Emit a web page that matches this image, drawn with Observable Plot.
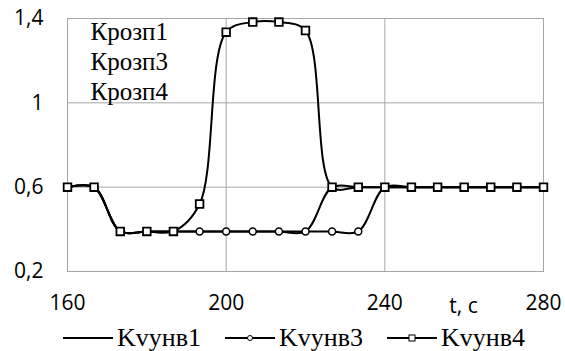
<!DOCTYPE html>
<html>
<head>
<meta charset="utf-8">
<script src="https://cdn.jsdelivr.net/npm/d3@7"></script>
<script src="https://cdn.jsdelivr.net/npm/@observablehq/plot@0.6"></script>
<style>
  html, body { margin: 0; padding: 0; background: #fff; }
  #legend { display: flex; align-items: center; height: 26px; padding-left: 63px;
    font-family: "Liberation Serif", serif; font-size: 26px; color: #000; }
  #legend .item { display: flex; align-items: center; margin-right: 24px; }
  #legend svg { margin-right: 4px; }
</style>
</head>
<body>
<div id="chart"></div>
<div id="legend"></div>
<script>
const t = [160, 166.7, 173.3, 180, 186.7, 193.3, 200, 206.7, 213.3, 220, 226.7, 233.3, 240, 246.7, 253.3, 260, 266.7, 273.3, 280];
const kvunv1 = [0.6, 0.6, 0.39, 0.39, 0.39, 0.39, 0.39, 0.39, 0.39, 0.39, 0.6, 0.6, 0.6, 0.6, 0.6, 0.6, 0.6, 0.6, 0.6];
const kvunv3 = [0.6, 0.6, 0.39, 0.39, 0.39, 0.39, 0.39, 0.39, 0.39, 0.39, 0.39, 0.39, 0.6, 0.6, 0.6, 0.6, 0.6, 0.6, 0.6];
const kvunv4 = [0.6, 0.6, 0.39, 0.39, 0.39, 0.52, 1.335, 1.383, 1.383, 1.343, 0.6, 0.6, 0.6, 0.6, 0.6, 0.6, 0.6, 0.6, 0.6];
const seriesNames = ["Kvунв1", "Kvунв3", "Kvунв4"];
const seriesSymbols = [null, "circle", "square"];
const xTicks = [160, 200, 240, 280];
const yTicks = [0.2, 0.6, 1, 1.4];
const noteLines = ["Крозп1", "Крозп3", "Крозп4"];
const xLabel = "t, c";

const seriesValues = [kvunv1, kvunv3, kvunv4];
const rows = seriesNames.map((name, i) => t.map((x, j) => ({x, y: seriesValues[i][j], name})));

const sans = "'Open Sans', sans-serif";
const serif = "'Liberation Serif', serif";
const grid = "#a6a6a6";
const curve = "catmull-rom";

const plot = Plot.plot({
  width: 565,
  height: 325,
  marginLeft: 67,
  marginRight: 22,
  marginTop: 18,
  marginBottom: 54,
  style: {fontFamily: sans, background: "#fff"},
  x: {domain: [160, 280]},
  y: {domain: [0.2, 1.4]},
  marks: [
    Plot.gridX(xTicks, {stroke: grid, strokeOpacity: 1, strokeWidth: 1}),
    Plot.gridY(yTicks, {stroke: grid, strokeOpacity: 1, strokeWidth: 1}),
    Plot.frame({stroke: grid, strokeWidth: 1}),
    Plot.axisX(xTicks, {tickSize: 0, tickPadding: 24, fontSize: 21, fill: "#000", label: null, fontFamily: sans}),
    Plot.axisY(yTicks, {tickSize: 0, tickPadding: 24, fontSize: 21, fill: "#000", label: null, fontFamily: sans,
      tickFormat: d => String(d).replace(".", ",")}),
    ...rows.map((r, i) => Plot.line(r, {x: "x", y: "y", stroke: "#000", strokeWidth: 2, curve})),
    Plot.dot(rows[1], {x: "x", y: "y", symbol: "circle", r: 3.5, stroke: "#000", strokeWidth: 1.5, fill: "#fff"}),
    Plot.dot(rows[2], {x: "x", y: "y", symbol: "square", r: 4.3, stroke: "#000", strokeWidth: 1.8, fill: "#fff"}),
    Plot.text([noteLines.join("\n")], {frameAnchor: "top-left", dx: 23, dy: 0, lineAnchor: "top",
      lineHeight: 1.2, fontSize: 25, fontFamily: serif, fill: "#000", textAnchor: "start"}),
    Plot.text([xLabel], {frameAnchor: "bottom", dx: 158, dy: 41, fontSize: 21, fontFamily: sans, fill: "#000"})
  ]
});
document.getElementById("chart").appendChild(plot);

const legend = d3.select("#legend");
seriesNames.forEach((name, i) => {
  const item = legend.append("div").attr("class", "item");
  const s = item.append("svg").attr("width", 50).attr("height", 20);
  s.append("line").attr("x1", 0).attr("x2", 50).attr("y1", 10).attr("y2", 10)
    .attr("stroke", "#000").attr("stroke-width", 2);
  if (seriesSymbols[i] === "circle") {
    s.append("circle").attr("cx", 25).attr("cy", 10).attr("r", 2.5)
      .attr("fill", "#fff").attr("stroke", "#000").attr("stroke-width", 1);
  } else if (seriesSymbols[i] === "square") {
    s.append("rect").attr("x", 22).attr("y", 7).attr("width", 6).attr("height", 6)
      .attr("fill", "#fff").attr("stroke", "#000").attr("stroke-width", 1);
  }
  item.append("span").text(name);
});
</script>
</body>
</html>
